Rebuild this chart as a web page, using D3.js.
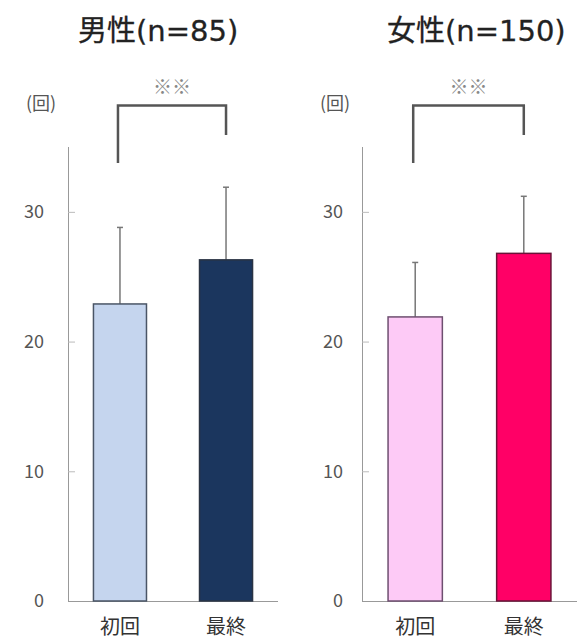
<!DOCTYPE html>
<html>
<head>
<meta charset="utf-8">
<script src="https://cdn.jsdelivr.net/npm/d3@7"></script>
<style>
  html, body { margin: 0; padding: 0; background: #fff; }
  svg { display: block; }
  text { font-family: "Noto Sans CJK JP", "Noto Sans", sans-serif; }
</style>
</head>
<body>
<svg id="chart" width="584" height="641"></svg>
<script>
(function () {
  'use strict';

  // ── Data ──────────────────────────────────────────────────────────────────
  var categories = ['初回', '最終'];
  var panelLabels = ['男性', '女性'];
  var panelCounts = ['(n=85)', '(n=150)'];
  var maleMeans = [22.9, 26.3];
  var maleSD = [5.9, 5.6];
  var femaleMeans = [21.9, 26.8];
  var femaleSD = [4.2, 4.4];
  var yTicks = [0, 10, 20, 30];
  var yUnit = '(回)';
  var sigMark = '※※';

  var panels = [
    { label: panelLabels[0], count: panelCounts[0], means: maleMeans, sd: maleSD,
      fills: ['#c5d5ee', '#1b365e'], strokes: ['#4a5566', '#2a3444'],
      axisX: 68, right: 278, titleX: 78, tickPad: 24 },
    { label: panelLabels[1], count: panelCounts[1], means: femaleMeans, sd: femaleSD,
      fills: ['#fdcaf6', '#ff0066'], strokes: ['#6e4f70', '#6a1338'],
      axisX: 362, right: 577, titleX: 387, tickPad: 19 }
  ];

  var svg = d3.select('#chart');
  var y = d3.scaleLinear().domain([0, 35]).range([601, 147]);

  panels.forEach(function (p) {
    var g = svg.append('g');
    var x = d3.scaleBand().domain(categories)
      .range([p.axisX, p.right]).paddingInner(0.5).paddingOuter(0.24);

    // title
    var t = g.append('text')
      .attr('x', p.titleX).attr('y', 41)
      .attr('font-size', 29).attr('fill', '#222')
      .attr('stroke', '#222').attr('stroke-width', 0.3);
    t.append('tspan').text(p.label);
    t.append('tspan').attr('font-family', '"DejaVu Sans", sans-serif').text(p.count);

    // unit label
    g.append('text')
      .attr('x', p.axisX - 27).attr('y', 110)
      .attr('text-anchor', 'middle')
      .attr('font-size', 18).attr('fill', '#555')
      .text(yUnit);

    // y axis
    var yAxis = d3.axisLeft(y).tickValues(yTicks).tickSizeInner(-7).tickSizeOuter(0).tickPadding(p.tickPad);
    var ya = g.append('g').attr('transform', 'translate(' + p.axisX + ',0)').call(yAxis);
    ya.select('.domain').attr('stroke', '#999').attr('d', 'M0.5,' + y(35) + 'V' + y(0));
    ya.selectAll('.tick line').attr('stroke', '#bbb');
    ya.selectAll('.tick text')
      .attr('font-size', 18).attr('fill', '#555')
      .attr('font-family', '"Noto Sans", sans-serif');

    // baseline
    g.append('line')
      .attr('x1', p.axisX).attr('x2', p.right)
      .attr('y1', y(0) + 0.5).attr('y2', y(0) + 0.5)
      .attr('stroke', '#999');

    // error bars
    g.selectAll('.err').data(categories).join('line')
      .attr('class', 'err')
      .attr('x1', function (d) { return x(d) + x.bandwidth() / 2; })
      .attr('x2', function (d) { return x(d) + x.bandwidth() / 2; })
      .attr('y1', function (d, i) { return y(p.means[i]); })
      .attr('y2', function (d, i) { return y(p.means[i] + p.sd[i]); })
      .attr('stroke', '#777').attr('stroke-width', 1.5);
    g.selectAll('.cap').data(categories).join('line')
      .attr('class', 'cap')
      .attr('x1', function (d) { return x(d) + x.bandwidth() / 2 - 3; })
      .attr('x2', function (d) { return x(d) + x.bandwidth() / 2 + 3; })
      .attr('y1', function (d, i) { return y(p.means[i] + p.sd[i]); })
      .attr('y2', function (d, i) { return y(p.means[i] + p.sd[i]); })
      .attr('stroke', '#777').attr('stroke-width', 1.5);

    // bars
    g.selectAll('.bar').data(categories).join('rect')
      .attr('class', 'bar')
      .attr('x', function (d) { return x(d); })
      .attr('width', x.bandwidth())
      .attr('y', function (d, i) { return y(p.means[i]); })
      .attr('height', function (d, i) { return y(0) - y(p.means[i]); })
      .attr('fill', function (d, i) { return p.fills[i]; })
      .attr('stroke', function (d, i) { return p.strokes[i]; })
      .attr('stroke-width', 1.5);

    // category labels
    g.selectAll('.cat').data(categories).join('text')
      .attr('class', 'cat')
      .attr('x', function (d) { return x(d) + x.bandwidth() / 2; })
      .attr('y', 634)
      .attr('text-anchor', 'middle')
      .attr('font-size', 20).attr('fill', '#333')
      .text(function (d) { return d; });

    // significance bracket
    var c1 = x(categories[0]) + x.bandwidth() / 2 - 2;
    var c2 = x(categories[1]) + x.bandwidth() / 2;
    g.append('path')
      .attr('d', 'M' + c1 + ',163V105.5H' + c2 + 'V135')
      .attr('fill', 'none').attr('stroke', '#555').attr('stroke-width', 2.5);
    g.append('text')
      .attr('x', (c1 + c2) / 2).attr('y', 94)
      .attr('text-anchor', 'middle')
      .attr('font-size', 19).attr('fill', '#888')
      .text(sigMark);
  });
})();
</script>
</body>
</html>
